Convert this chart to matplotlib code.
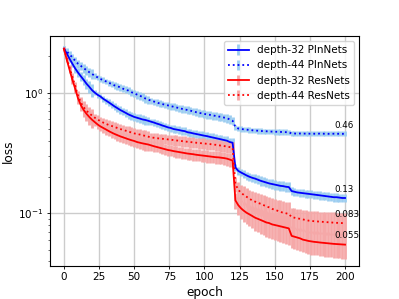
import numpy as np
import matplotlib
matplotlib.use("Agg")
import matplotlib.pyplot as plt

epochs = np.arange(0, 201, 2)

plain32 = [2.32, 2.12, 1.91, 1.74, 1.59, 1.47, 1.37, 1.28, 1.19, 1.12,
           1.05, 1.00, 0.96, 0.93, 0.89, 0.86, 0.83, 0.80, 0.77, 0.745,
           0.72, 0.70, 0.68, 0.66, 0.645, 0.63, 0.62, 0.61, 0.60, 0.594,
           0.585, 0.575, 0.566, 0.555, 0.546, 0.535, 0.526, 0.516, 0.51, 0.50,
           0.495, 0.49, 0.484, 0.48, 0.47, 0.466, 0.46, 0.455, 0.45, 0.445,
           0.44, 0.436, 0.43, 0.425, 0.42, 0.415, 0.41, 0.405, 0.40, 0.39,
           0.385, 0.24, 0.225, 0.218, 0.212, 0.206, 0.201, 0.197, 0.194, 0.19,
           0.186, 0.183, 0.18, 0.177, 0.175, 0.173, 0.171, 0.169, 0.168, 0.166,
           0.165, 0.153, 0.151, 0.149, 0.148, 0.147, 0.146, 0.145, 0.144, 0.143,
           0.142, 0.141, 0.140, 0.139, 0.138, 0.137, 0.136, 0.136, 0.135, 0.134,
           0.134]

plain44 = [2.32, 2.20, 2.08, 1.96, 1.84, 1.74, 1.67, 1.60, 1.54, 1.48,
           1.43, 1.38, 1.34, 1.30, 1.27, 1.24, 1.21, 1.18, 1.15, 1.13,
           1.11, 1.08, 1.06, 1.04, 1.01, 0.99, 0.965, 0.945, 0.92, 0.895,
           0.875, 0.86, 0.845, 0.83, 0.815, 0.805, 0.795, 0.785, 0.775, 0.765,
           0.755, 0.745, 0.735, 0.725, 0.72, 0.71, 0.70, 0.69, 0.68, 0.675,
           0.667, 0.66, 0.655, 0.648, 0.642, 0.635, 0.63, 0.622, 0.615, 0.60,
           0.585, 0.52, 0.505, 0.50, 0.497, 0.494, 0.491, 0.488, 0.486, 0.484,
           0.482, 0.48, 0.479, 0.477, 0.476, 0.475, 0.474, 0.473, 0.472, 0.471,
           0.47, 0.459, 0.459, 0.458, 0.459, 0.458, 0.458, 0.457, 0.458, 0.457,
           0.457, 0.458, 0.457, 0.457, 0.456, 0.457, 0.457, 0.456, 0.457, 0.456,
           0.457]

res32 = [2.32, 1.88, 1.55, 1.28, 1.08, 0.90, 0.79, 0.72, 0.67, 0.63,
         0.597, 0.57, 0.545, 0.525, 0.51, 0.495, 0.48, 0.467, 0.455, 0.445,
         0.435, 0.427, 0.419, 0.411, 0.404, 0.398, 0.39, 0.385, 0.38, 0.376,
         0.372, 0.366, 0.36, 0.355, 0.35, 0.345, 0.34, 0.335, 0.332, 0.328,
         0.325, 0.322, 0.319, 0.316, 0.313, 0.311, 0.309, 0.306, 0.304, 0.302,
         0.30, 0.298, 0.296, 0.294, 0.292, 0.291, 0.289, 0.287, 0.284, 0.279,
         0.274, 0.128, 0.117, 0.11, 0.105, 0.101, 0.098, 0.095, 0.092, 0.09,
         0.088, 0.086, 0.084, 0.083, 0.081, 0.080, 0.079, 0.078, 0.077, 0.076,
         0.075, 0.065, 0.064, 0.063, 0.062, 0.0605, 0.0598, 0.059, 0.0585, 0.058,
         0.0577, 0.0573, 0.057, 0.0567, 0.0564, 0.0561, 0.0558, 0.0556, 0.0554, 0.0552,
         0.055]

res44 = [2.32, 1.93, 1.62, 1.36, 1.14, 0.95, 0.83, 0.76, 0.71, 0.675,
         0.646, 0.62, 0.60, 0.58, 0.565, 0.551, 0.54, 0.53, 0.52, 0.51,
         0.50, 0.492, 0.484, 0.476, 0.468, 0.46, 0.455, 0.45, 0.444, 0.438,
         0.432, 0.427, 0.423, 0.42, 0.417, 0.415, 0.413, 0.41, 0.408, 0.405,
         0.402, 0.40, 0.397, 0.394, 0.392, 0.39, 0.387, 0.385, 0.383, 0.381,
         0.379, 0.377, 0.375, 0.372, 0.37, 0.367, 0.364, 0.361, 0.358, 0.354,
         0.35, 0.175, 0.157, 0.148, 0.142, 0.137, 0.132, 0.128, 0.125, 0.122,
         0.12, 0.117, 0.114, 0.112, 0.109, 0.107, 0.105, 0.103, 0.101, 0.10,
         0.099, 0.093, 0.092, 0.091, 0.09, 0.089, 0.088, 0.087, 0.0865, 0.086,
         0.0857, 0.0853, 0.085, 0.0846, 0.0843, 0.084, 0.0837, 0.0834, 0.0832, 0.083,
         0.0828]

plain32_err = [0.12] * 11 + [0.05] * 20 + [0.035] * 30 + [0.016] * 20 + [0.011] * 20
plain44_err = [0.13] * 11 + [0.07] * 20 + [0.05] * 30 + [0.025] * 20 + [0.022] * 20
res32_err = [0.09] * 11 + [0.045] * 20 + [0.035] * 30 + [0.02] * 20 + [0.013] * 20
res44_err = [0.09] * 11 + [0.05] * 20 + [0.04] * 30 + [0.025] * 20 + [0.018] * 20

labels = ["depth-32 PlnNets", "depth-44 PlnNets", "depth-32 ResNets", "depth-44 ResNets"]

fig = plt.figure(figsize=(3.99, 2.99), dpi=100)
ax = fig.add_subplot(111)

series = [
    (plain32, plain32_err, "blue", "#9ccdf0", "-"),
    (plain44, plain44_err, "blue", "#9ccdf0", ":"),
    (res32, res32_err, "red", "#f5a8a8", "-"),
    (res44, res44_err, "red", "#f5a8a8", ":"),
]
for (vals, err, c, ec, ls), lab in zip(series, labels):
    ax.errorbar(epochs, vals, yerr=err, color=c, ecolor=ec, ls=ls, lw=1.3,
                elinewidth=2.0, capsize=0, label=lab)

for vals in [plain44, plain32, res44, res32]:
    ax.annotate(f"{vals[-1]:.2g}", (192.5, vals[-1]), xytext=(0, 3),
                textcoords="offset points", ha="left", va="bottom", fontsize=6.3)

ax.set_yscale("log")
ax.set_ylim(0.0365, 2.96)
ax.set_xlim(-10, 210)
ax.set_xticks([0, 25, 50, 75, 100, 125, 150, 175, 200])
ax.grid(True, color="#cccccc", lw=1.0)
ax.tick_params(which="major", labelsize=7.5, length=2.2, pad=2.2, width=0.6)
ax.tick_params(which="minor", length=1.3, width=0.4)
ax.set_xlabel("epoch", fontsize=8.7, labelpad=2.5)
ax.set_ylabel("loss", fontsize=8.7, labelpad=2.5)
ax.legend(loc="upper right", fontsize=7.5)

fig.savefig("out.png", dpi=100)
